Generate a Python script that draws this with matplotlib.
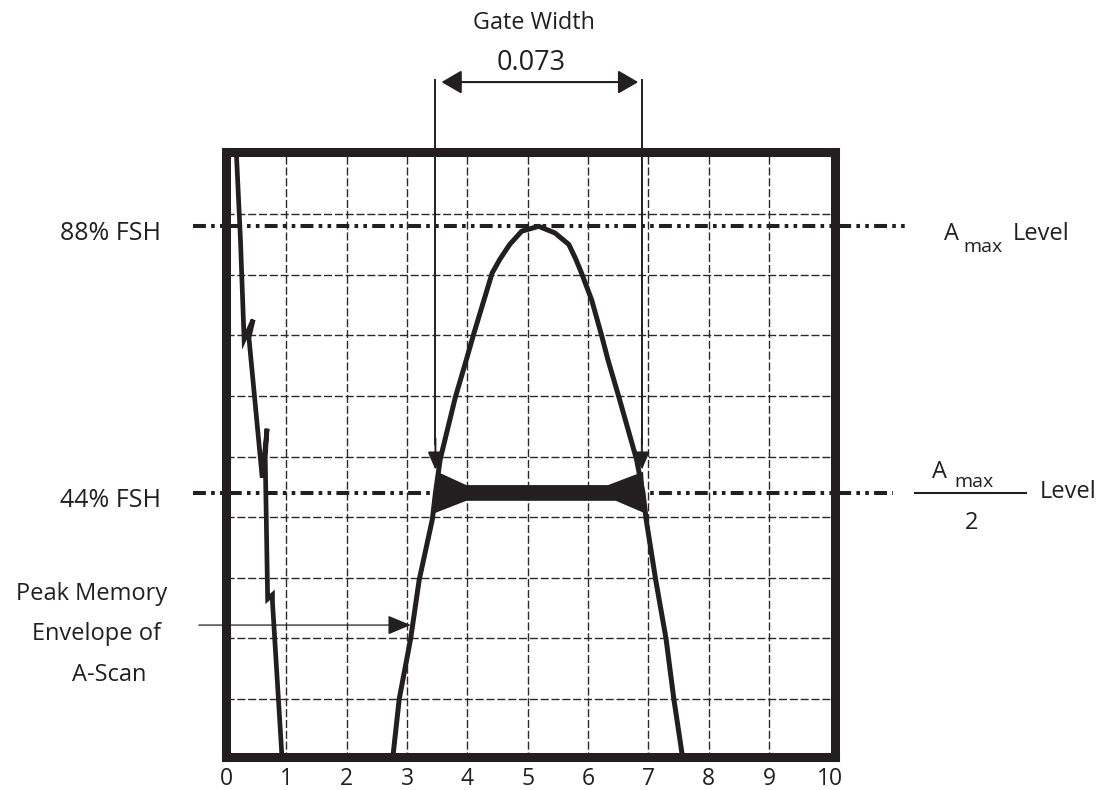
import matplotlib
matplotlib.use("Agg")
import matplotlib.pyplot as plt

plt.rcParams['font.family'] = ['Open Sans', 'DejaVu Sans']

INK = '#231f20'

# ---- data ----
X_TICKS = list(range(0, 11))
GRID_X = list(range(1, 10))
GRID_Y = list(range(10, 100, 10))

AMAX_LEVEL = 88      # % FSH
HALF_LEVEL = 44      # % FSH
GATE_LABEL = "0.073"
GATE_X = [3.47, 6.89]

# peak memory envelope of the A-scan
ENVELOPE_X = [2.76, 2.87, 3.06, 3.20, 3.42, 3.47, 3.55, 3.80, 3.98, 4.10, 4.41,
              4.54, 4.70, 4.90, 5.18, 5.45, 5.68, 5.79, 5.89, 6.06, 6.22, 6.33,
              6.51, 6.80, 6.91, 6.96, 7.12, 7.29, 7.42, 7.57]
ENVELOPE_Y = [0, 10, 20, 29.6, 39.7, 44, 49.6, 59.8, 65.9, 70.1, 80.3,
              82.6, 85, 87.2, 88, 86.9, 85, 82.7, 80.3, 75.8, 70.1, 65.9,
              59.8, 49.6, 44, 39.7, 29.6, 20, 10, 0]

# initial pulse trace at the left edge
LEAD_X = [0.17, 0.24, 0.30, 0.45, 0.38, 0.60, 0.68, 0.65, 0.69, 0.77, 0.77, 0.93]
LEAD_Y = [100.5, 85.7, 69.3, 72.6, 69.6, 46.5, 54.6, 49.9, 26.5, 27.2, 26.0, 0]

# thick gate bar at half amplitude
BAR_X = [3.50, 3.98, 6.33, 6.91, 6.95, 6.46, 3.98, 3.44]
BAR_Y = [47.5, 45.3, 45.3, 47.5, 40.6, 42.7, 42.7, 40.6]

fig = plt.figure(figsize=(11.07, 7.9), dpi=100)
ax = fig.add_axes([226 / 1107, 33 / 790, 609 / 1107, 605 / 790])
ax.set_xlim(0.058, 10.09)
ax.set_ylim(0.43, 100.26)

# dashed grid
ax.vlines(GRID_X, 0, 100, colors='#2a2a2a', linewidth=1.0,
          linestyles=(0, (5.8, 2.0)), zorder=1)
ax.hlines(GRID_Y, 0, 10.2, colors='#2a2a2a', linewidth=1.0,
          linestyles=(0, (5.8, 2.0)), zorder=1)

# level lines (dash-dot-dot), running past the frame
ddd = (0, (3.2, 1.3, 0.9, 1.3, 0.9, 1.3))
ax.plot([-0.55, 11.28], [AMAX_LEVEL] * 2, color=INK, lw=2.9, linestyle=ddd,
        clip_on=False, zorder=2)
ax.plot([-0.55, 11.05], [HALF_LEVEL] * 2, color=INK, lw=2.9, linestyle=ddd,
        clip_on=False, zorder=2)

# traces
ax.plot(LEAD_X, LEAD_Y, color=INK, lw=3.4, solid_joinstyle='miter', zorder=3)
ax.plot(ENVELOPE_X, ENVELOPE_Y, color=INK, lw=3.6, zorder=3)
ax.fill(BAR_X, BAR_Y, color=INK, lw=0, zorder=4)

# gate markers: vertical lines ending in arrows at the half level
for gx in GATE_X:
    ax.plot([gx, gx], [112.1, 52], color=INK, lw=1.4, clip_on=False, zorder=5)
    ax.annotate('', xy=(gx, 47.8), xytext=(gx, 53), annotation_clip=False,
                arrowprops=dict(arrowstyle='-|>,head_length=0.54,head_width=0.23',
                                color=INK, lw=1.4, shrinkA=0, shrinkB=0,
                                mutation_scale=20), zorder=5)

ax.annotate('', xy=(3.57, 111.8), xytext=(6.83, 111.8), annotation_clip=False,
            arrowprops=dict(arrowstyle='<|-|>,head_length=0.62,head_width=0.36',
                            color=INK, lw=1.5, shrinkA=0, shrinkB=0,
                            mutation_scale=20))

ax.annotate('', xy=(3.06, 22.2), xytext=(-0.45, 22.2), annotation_clip=False,
            arrowprops=dict(arrowstyle='-|>,head_length=0.72,head_width=0.3',
                            color=INK, lw=0.9, shrinkA=0, shrinkB=0,
                            mutation_scale=20))

# frame
for sp in ax.spines.values():
    sp.set_linewidth(6.5)
    sp.set_color(INK)
    sp.set_capstyle('projecting')
    sp.set_zorder(6)

ax.set_xticks(X_TICKS)
ax.set_xticklabels([str(t) for t in X_TICKS])
ax.tick_params(axis='x', length=0, pad=7, labelsize=16.5, colors=INK)
ax.set_yticks([])

# texts
ax.text(5.11, 120.5, 'Gate Width', ha='center', va='baseline', fontsize=16.8, color=INK)
ax.text(5.06, 113.8, GATE_LABEL, ha='center', va='baseline', fontsize=19.5, color=INK)

ax.text(-1.08, AMAX_LEVEL - 2.3, f'{AMAX_LEVEL}% FSH', ha='right', va='baseline',
        fontsize=18, color=INK)
ax.text(-1.08, HALF_LEVEL - 2.3, f'{HALF_LEVEL}% FSH', ha='right', va='baseline',
        fontsize=18, color=INK)

ax.text(-2.22, 26.3, 'Peak Memory', ha='center', va='baseline', fontsize=17, color=INK)
ax.text(-2.14, 19.7, 'Envelope of', ha='center', va='baseline', fontsize=17, color=INK)
ax.text(-1.94, 13.0, 'A-Scan', ha='center', va='baseline', fontsize=17, color=INK)

# A max level
ax.text(11.89, AMAX_LEVEL - 2.3, 'A', ha='left', va='baseline', fontsize=17, color=INK)
ax.text(12.22, AMAX_LEVEL - 4.3, 'max', ha='left', va='baseline', fontsize=14, color=INK)
ax.text(13.04, AMAX_LEVEL - 2.3, 'Level', ha='left', va='baseline', fontsize=17, color=INK)

# A max / 2 level
ax.text(11.70, HALF_LEVEL + 2.5, 'A', ha='left', va='baseline', fontsize=17, color=INK)
ax.text(12.07, HALF_LEVEL + 1.0, 'max', ha='left', va='baseline', fontsize=14, color=INK)
ax.plot([11.41, 13.25], [HALF_LEVEL, HALF_LEVEL], color=INK, lw=1.5, clip_on=False)
ax.text(12.35, HALF_LEVEL - 5.9, '2', ha='center', va='baseline', fontsize=17, color=INK)
ax.text(13.48, HALF_LEVEL - 0.9, 'Level', ha='left', va='baseline', fontsize=17, color=INK)

fig.savefig('out.png', dpi=100)
